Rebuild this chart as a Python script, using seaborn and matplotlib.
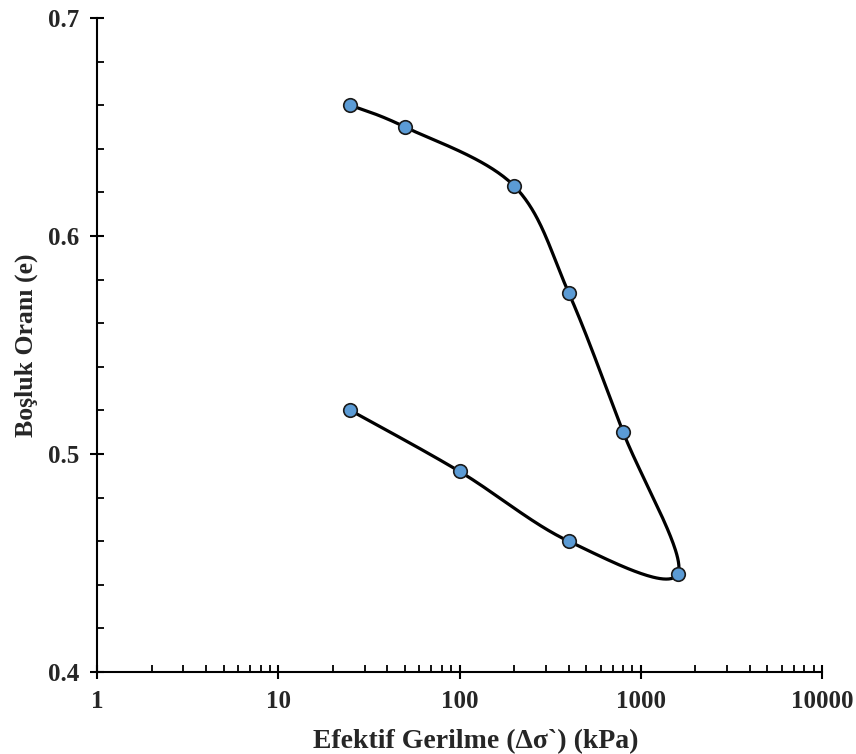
import numpy as np
import pandas as pd
import matplotlib
matplotlib.use("Agg")
import matplotlib.pyplot as plt
from matplotlib.ticker import LogLocator, FixedLocator, MultipleLocator, FuncFormatter, NullFormatter
import seaborn as sns

# Consolidation test: loading then unloading path
stress_kpa = [25, 50, 200, 400, 800, 1600, 400, 100, 25]
void_ratio = [0.660, 0.650, 0.623, 0.574, 0.510, 0.445, 0.460, 0.492, 0.520]
x_ticks = [1, 10, 100, 1000, 10000]
y_ticks = [0.4, 0.5, 0.6, 0.7]

sns.set_theme(style="ticks")
plt.rcParams["font.family"] = ["Liberation Serif", "DejaVu Serif"]
plt.rcParams["font.weight"] = "bold"

fig = plt.figure(figsize=(8.56, 7.54), dpi=100)
ax = fig.add_axes([0.1133, 0.1088, 0.8470, 0.8673])
ax.set_xscale("log")
ax.set_xlim(1, 10000)
ax.set_ylim(0.4, 0.7)

# Smoothed curve through the points (cubic Bezier, Catmull-Rom style control
# points computed in display-proportional units)
sx, sy = 181.3, 2180.0
u = np.log10(np.array(stress_kpa, float)) * sx
v = np.array(void_ratio, float) * sy
pts = np.column_stack([u, v])
n = len(pts)
curve = []
t = np.linspace(0, 1, 60)
for i in range(n - 1):
    p0 = pts[i]
    p3 = pts[i + 1]
    prev = pts[i - 1] if i > 0 else pts[i]
    nxt = pts[i + 2] if i + 2 < n else pts[i + 1]
    p1 = p0 + (p3 - prev) / 6.0
    p2 = p3 - (nxt - p0) / 6.0
    seg = ((1 - t) ** 3)[:, None] * p0 + (3 * (1 - t) ** 2 * t)[:, None] * p1 \
        + (3 * (1 - t) * t ** 2)[:, None] * p2 + (t ** 3)[:, None] * p3
    curve.append(seg if i == 0 else seg[1:])
curve = np.vstack(curve)
curve_df = pd.DataFrame({"stress": 10 ** (curve[:, 0] / sx), "e": curve[:, 1] / sy})
points_df = pd.DataFrame({"stress": stress_kpa, "e": void_ratio})

sns.lineplot(data=curve_df, x="stress", y="e", sort=False, estimator=None,
             color="black", linewidth=2.3, ax=ax, zorder=2)
sns.scatterplot(data=points_df, x="stress", y="e", s=95, color="#5B9BD5",
                edgecolor="#1a1a1a", linewidth=1.2, ax=ax, zorder=3)

# Axes styling
for side in ["top", "right"]:
    ax.spines[side].set_visible(False)
for side in ["left", "bottom"]:
    ax.spines[side].set_linewidth(1.5)
    ax.spines[side].set_color("black")

ax.xaxis.set_major_locator(FixedLocator(x_ticks))
ax.xaxis.set_minor_locator(LogLocator(base=10, subs=np.arange(2, 10)))
ax.xaxis.set_major_formatter(FuncFormatter(lambda val, pos: f"{val:g}"))
ax.xaxis.set_minor_formatter(NullFormatter())
ax.yaxis.set_major_locator(FixedLocator(y_ticks))
ax.yaxis.set_minor_locator(MultipleLocator(0.02))
ax.yaxis.set_major_formatter(FuncFormatter(lambda val, pos: f"{val:.1f}"))

ax.tick_params(axis="both", which="major", direction="inout", length=10, width=1.5,
               color="black", labelsize=18, pad=8)
ax.tick_params(axis="both", which="minor", direction="in", length=5, width=1.3,
               color="black")
for lbl in ax.get_xticklabels() + ax.get_yticklabels():
    lbl.set_fontweight("bold")

ax.set_xlabel("Efektif Gerilme (Δσ`) (kPa)", fontsize=20, fontweight="bold")
ax.xaxis.set_label_coords(0.523, -0.088)
ax.set_ylabel("Boşluk Oranı (e)", fontsize=18.5, fontweight="bold", labelpad=7)
ax.grid(False)

fig.savefig("out.png", dpi=100, facecolor="white")
